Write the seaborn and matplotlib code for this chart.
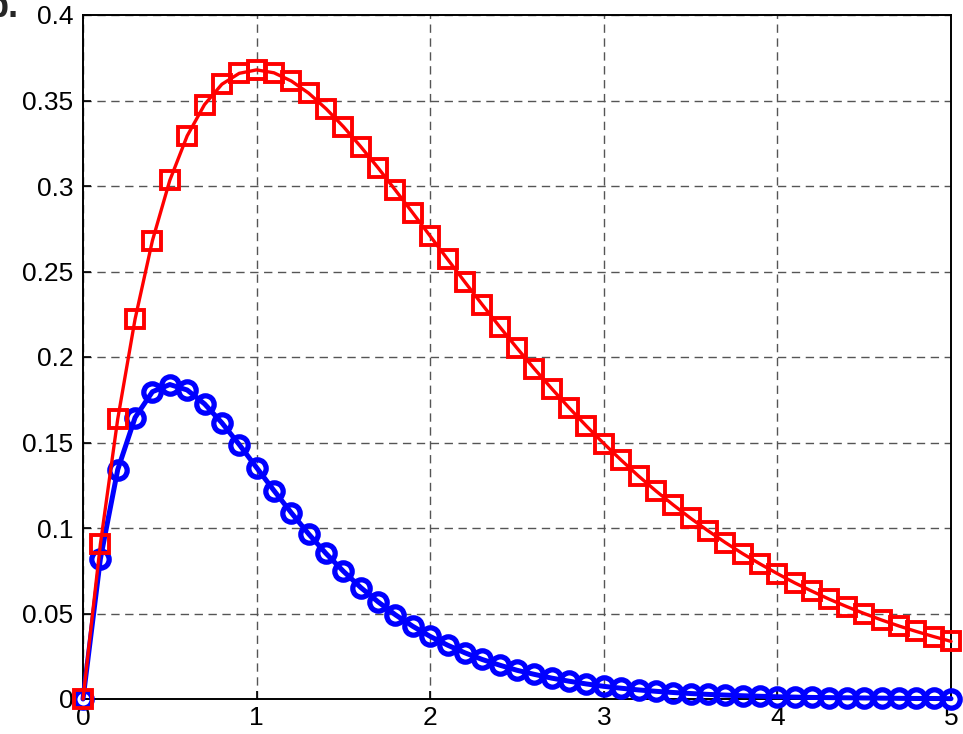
import matplotlib
matplotlib.use("Agg")
import matplotlib.pyplot as plt
import pandas as pd
import seaborn as sns

# --- dados ---
t = [round(0.1 * i, 1) for i in range(51)]

curva_vermelha = [
    0.0, 0.0905, 0.1637, 0.2222, 0.2681, 0.3033, 0.3293, 0.3476, 0.3595, 0.3659,
    0.3679, 0.3662, 0.3614, 0.3543, 0.3452, 0.3347, 0.3230, 0.3106, 0.2975, 0.2842,
    0.2707, 0.2572, 0.2438, 0.2306, 0.2177, 0.2052, 0.1931, 0.1815, 0.1703, 0.1596,
    0.1494, 0.1397, 0.1304, 0.1217, 0.1135, 0.1057, 0.0984, 0.0915, 0.0850, 0.0790,
    0.0733, 0.0679, 0.0630, 0.0583, 0.0540, 0.0500, 0.0462, 0.0427, 0.0395, 0.0365,
    0.0337,
]

curva_azul = [
    0.0, 0.0819, 0.1341, 0.1646, 0.1797, 0.1839, 0.1807, 0.1726, 0.1615, 0.1488,
    0.1353, 0.1219, 0.1089, 0.0965, 0.0851, 0.0747, 0.0652, 0.0568, 0.0492, 0.0425,
    0.0366, 0.0315, 0.0270, 0.0231, 0.0198, 0.0168, 0.0144, 0.0122, 0.0104, 0.0088,
    0.0074, 0.0063, 0.0053, 0.0045, 0.0038, 0.0032, 0.0027, 0.0023, 0.0019, 0.0016,
    0.0013, 0.0011, 0.0009, 0.0008, 0.0007, 0.0006, 0.0005, 0.0004, 0.0003, 0.0003,
    0.0002,
]

x_ticks = [0, 1, 2, 3, 4, 5]
y_ticks = [0, 0.05, 0.1, 0.15, 0.2, 0.25, 0.3, 0.35, 0.4]
y_labels = ["0", "0.05", "0.1", "0.15", "0.2", "0.25", "0.3", "0.35", "0.4"]

df_azul = pd.DataFrame({"t": t, "y": curva_azul})
df_verm = pd.DataFrame({"t": t, "y": curva_vermelha})

sns.set_style("ticks")
plt.rcParams["font.family"] = ["Liberation Sans", "DejaVu Sans"]

W, H = 963, 734
fig = plt.figure(figsize=(W / 100, H / 100), dpi=100)
# eixos: esquerda 83px, direita 951px, topo 15px, base 699px
ax = fig.add_axes([83 / W, 1 - 699 / H, (951 - 83) / W, (699 - 15) / H])

sns.lineplot(data=df_azul, x="t", y="y", ax=ax, color="#0000ff", lw=3.6,
             marker="o", markersize=12.5, markeredgewidth=3.8,
             markerfacecolor="none", markeredgecolor="#0000ff", zorder=3)
sns.lineplot(data=df_verm, x="t", y="y", ax=ax, color="#ff0000", lw=2.4,
             marker="s", markersize=12.5, markeredgewidth=2.8,
             markerfacecolor="none", markeredgecolor="#ff0000", zorder=4)

ax.set_xlim(0, 5)
ax.set_ylim(0, 0.4)
ax.set_xticks(x_ticks)
ax.set_xticklabels([str(v) for v in x_ticks])
ax.set_yticks(y_ticks)
ax.set_yticklabels(y_labels)
ax.set_xlabel("")
ax.set_ylabel("")

ax.grid(True, linestyle=(0, (6, 4)), color="#555555", linewidth=1.0)
ax.tick_params(direction="in", length=6, width=1.2, labelsize=19, colors="black")
ax.tick_params(axis="y", pad=7)
ax.tick_params(axis="x", pad=5)
for s in ax.spines.values():
    s.set_visible(True)
    s.set_color("black")
    s.set_linewidth(1.4)

for l in ax.get_lines():
    l.set_clip_on(False)

fig.text(19 / W, 1 - 17 / H, "b.", ha="right", va="baseline",
         fontsize=26, fontweight="bold")

fig.savefig("out.png", dpi=100)
